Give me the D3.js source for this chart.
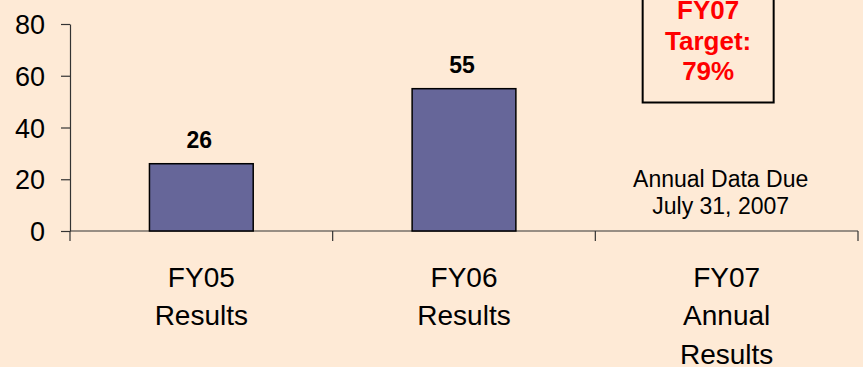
<!DOCTYPE html>
<html>
<head>
<meta charset="utf-8">
<script src="https://cdn.jsdelivr.net/npm/d3@7"></script>
<style>
  body { margin: 0; background: #feead6; }
  svg { display: block; font-family: Arial, "Liberation Sans", sans-serif; }
  .axis path, .axis line { stroke: #333; stroke-width: 1.2; }
</style>
</head>
<body>
<div id="chart"></div>
<script>
// chart data
var categories = ["FY05", "FY06", "FY07"];
var categoryLabels = [["FY05", "Results"], ["FY06", "Results"], ["FY07", "Annual", "Results"]];
var values = [26, 55, null];
var yTicks = [0, 20, 40, 60, 80];
var targetLines = ["FY07", "Target:", "79%"];
var noteLines = ["Annual Data Due", "July 31, 2007"];

var width = 863, height = 367;

var svg = d3.select("#chart").append("svg")
    .attr("width", width)
    .attr("height", height);

svg.append("rect")
    .attr("width", width)
    .attr("height", height)
    .attr("fill", "#feead6");

var x = d3.scaleBand()
    .domain(categories)
    .range([70, 858])
    .padding(0);

var y = d3.scaleLinear()
    .domain([0, 80])
    .range([231, 24]);

// y axis
var yAxis = svg.append("g")
    .attr("class", "axis")
    .attr("transform", "translate(70,0)")
    .call(d3.axisLeft(y).tickValues(yTicks).tickSize(9).tickSizeOuter(0).tickPadding(16));

yAxis.selectAll("text")
    .attr("font-size", "27px")
    .attr("font-family", "Arial, 'Liberation Sans', sans-serif")
    .attr("fill", "#000")
    .attr("dy", "0.36em");

// x axis line + category boundary ticks
var xg = svg.append("g").attr("class", "axis");
xg.append("line")
    .attr("x1", x.range()[0]).attr("x2", x.range()[1])
    .attr("y1", y(0)).attr("y2", y(0));

var bounds = categories.map(function(c) { return x(c); }).concat([x.range()[1]]);
xg.selectAll("line.tick")
    .data(bounds)
    .enter().append("line")
    .attr("class", "tick")
    .attr("x1", function(d) { return d; })
    .attr("x2", function(d) { return d; })
    .attr("y1", y(0))
    .attr("y2", y(0) + 10);

// category labels
var lab = svg.append("g").selectAll("text")
    .data(categories)
    .enter().append("text")
    .attr("x", function(d) { return x(d) + x.bandwidth() / 2; })
    .attr("y", 287)
    .attr("text-anchor", "middle")
    .attr("font-size", "28px")
    .attr("fill", "#000");

lab.selectAll("tspan")
    .data(function(d, i) { return categoryLabels[i]; })
    .enter().append("tspan")
    .attr("x", function() { return this.parentNode.getAttribute("x"); })
    .attr("dy", function(d, i) { return i === 0 ? 0 : 38.3; })
    .text(function(d) { return d; });

// bars
var barData = categories.map(function(c, i) { return { cat: c, v: values[i] }; })
    .filter(function(d) { return d.v !== null; });

var barW = x.bandwidth() * 0.395;

svg.append("g").selectAll("rect")
    .data(barData)
    .enter().append("rect")
    .attr("x", function(d) { return x(d.cat) + x.bandwidth() / 2 - barW / 2; })
    .attr("y", function(d) { return y(d.v); })
    .attr("width", barW)
    .attr("height", function(d) { return y(0) - y(d.v); })
    .attr("fill", "#666699")
    .attr("stroke", "#000")
    .attr("stroke-width", 1.5);

svg.append("g").selectAll("text")
    .data(barData)
    .enter().append("text")
    .attr("x", function(d) { return x(d.cat) + x.bandwidth() / 2 - 2; })
    .attr("y", function(d) { return y(d.v) - 16; })
    .attr("text-anchor", "middle")
    .attr("font-size", "23px")
    .attr("font-weight", "bold")
    .attr("fill", "#000")
    .text(function(d) { return d.v; });

// target box
var cx3 = x("FY07") + x.bandwidth() / 2;
svg.append("rect")
    .attr("x", cx3 - 84)
    .attr("y", -20)
    .attr("width", 131)
    .attr("height", 122.5)
    .attr("fill", "none")
    .attr("stroke", "#000")
    .attr("stroke-width", 2);

var tgt = svg.append("text")
    .attr("x", cx3 - 18.5)
    .attr("y", 19)
    .attr("text-anchor", "middle")
    .attr("font-size", "26px")
    .attr("font-weight", "bold")
    .attr("fill", "#ff0000");

tgt.selectAll("tspan")
    .data(targetLines)
    .enter().append("tspan")
    .attr("x", cx3 - 18.5)
    .attr("dy", function(d, i) { return i === 0 ? 0 : 30.5; })
    .text(function(d) { return d; });

// note
var note = svg.append("text")
    .attr("x", cx3 - 6)
    .attr("y", 187)
    .attr("text-anchor", "middle")
    .attr("font-size", "23px")
    .attr("fill", "#000");

note.selectAll("tspan")
    .data(noteLines)
    .enter().append("tspan")
    .attr("x", cx3 - 6)
    .attr("dy", function(d, i) { return i === 0 ? 0 : 26.5; })
    .text(function(d) { return d; });
</script>
</body>
</html>
